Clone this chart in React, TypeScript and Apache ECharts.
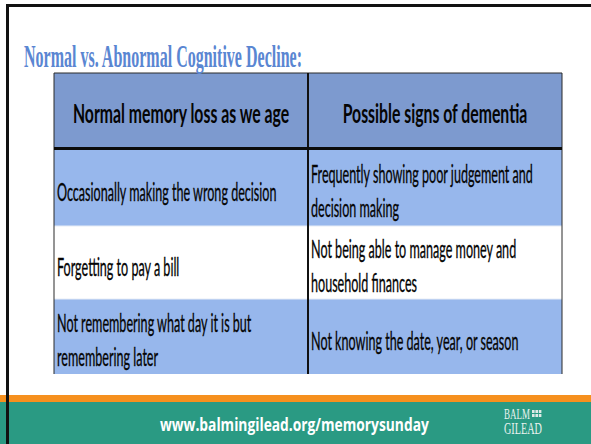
import React, { useEffect, useRef } from "react";
import * as echarts from "echarts";

// ---- content ----
const slideTitle = "Normal vs. Abnormal Cognitive Decline:";
const columnHeaders = ["Normal memory loss as we age", "Possible signs of dementia"];
const normalMemoryLoss: string[][] = [
  ["Occasionally making the wrong decision"],
  ["Forgetting to pay a bill"],
  ["Not remembering what day it is but", "remembering later"],
];
const signsOfDementia: string[][] = [
  ["Frequently showing poor judgement and", "decision making"],
  ["Not being able to manage money and", "household finances"],
  ["Not knowing the date, year, or season"],
];
const footerUrl = "www.balmingilead.org/memorysunday";
const logoLines = ["BALM", "GILEAD"];

// ---- layout ----
const W = 591;
const H = 444;
const TBL_L = 54;
const TBL_R = 562;
const TBL_MID = 308;
const TBL_TOP = 73;
const HEAD_BOTTOM = 148;
const ROW_EDGES = [150, 226, 299, 374];

const BODY_FONT = "Lato, 'Open Sans', sans-serif";
const BODY_SIZE = 25;
const HEAD_SIZE = 26;

function measure(text: string, font: string): number {
  const c = document.createElement("canvas");
  const ctx = c.getContext("2d");
  if (!ctx) return text.length * 8;
  ctx.font = font;
  return ctx.measureText(text).width || text.length * 8;
}

function txt(
  text: string,
  x: number,
  y: number,
  font: string,
  fill: string,
  scaleX: number,
  align: "left" | "center" | "right",
  strokeW = 0
) {
  const style: any = {
    text,
    font,
    fill,
    align,
    verticalAlign: "middle",
    textAlign: align,
    textVerticalAlign: "middle",
  };
  if (strokeW > 0) {
    style.stroke = fill;
    style.lineWidth = strokeW;
  }
  return { type: "text", x, y, scaleX, silent: true, z: 10, style };
}

function buildGraphic() {
  const g: any[] = [];
  // background
  g.push({ type: "rect", z: 0, shape: { x: 0, y: 0, width: W, height: H }, style: { fill: "#ffffff" } });
  // footer band
  g.push({ type: "rect", z: 1, shape: { x: 0, y: 395, width: W, height: 8 }, style: { fill: "#f6901e" } });
  g.push({ type: "rect", z: 1, shape: { x: 0, y: 402, width: W, height: H - 402 }, style: { fill: "#2a9a83" } });
  // slide frame
  g.push({ type: "rect", z: 2, shape: { x: 6, y: 4, width: W - 6, height: 3 }, style: { fill: "#111111" } });
  g.push({ type: "rect", z: 2, shape: { x: 6, y: 4, width: 3, height: H - 4 }, style: { fill: "#111111" } });

  // table header
  g.push({
    type: "rect",
    z: 3,
    shape: { x: TBL_L, y: TBL_TOP, width: TBL_R - TBL_L, height: HEAD_BOTTOM - TBL_TOP },
    style: { fill: "#7d9acf" },
  });
  // rows
  const rowFills = ["#97b7ec", "#ffffff", "#97b7ec"];
  for (let i = 0; i < 3; i++) {
    g.push({
      type: "rect",
      z: 3,
      shape: { x: TBL_L, y: ROW_EDGES[i], width: TBL_R - TBL_L, height: ROW_EDGES[i + 1] - ROW_EDGES[i] },
      style: { fill: rowFills[i] },
    });
  }
  // row separators (light)
  for (let i = 1; i < 3; i++) {
    g.push({
      type: "line",
      z: 4,
      shape: { x1: TBL_L, y1: ROW_EDGES[i], x2: TBL_R, y2: ROW_EDGES[i] },
      style: { stroke: "#e6ecf6", lineWidth: 1 },
    });
  }
  // outer borders
  g.push({ type: "line", z: 5, shape: { x1: TBL_L, y1: TBL_TOP, x2: TBL_R, y2: TBL_TOP }, style: { stroke: "#2a2a2a", lineWidth: 1 } });
  g.push({ type: "line", z: 5, shape: { x1: TBL_L, y1: TBL_TOP, x2: TBL_L, y2: ROW_EDGES[3] }, style: { stroke: "#2a2a2a", lineWidth: 1 } });
  g.push({ type: "line", z: 5, shape: { x1: TBL_R, y1: TBL_TOP, x2: TBL_R, y2: ROW_EDGES[3] }, style: { stroke: "#2a2a2a", lineWidth: 1 } });
  // divider
  g.push({ type: "line", z: 5, shape: { x1: TBL_MID, y1: TBL_TOP, x2: TBL_MID, y2: ROW_EDGES[3] }, style: { stroke: "#111111", lineWidth: 2 } });
  // header bottom thick line
  g.push({ type: "rect", z: 5, shape: { x: TBL_L, y: HEAD_BOTTOM - 1, width: TBL_R - TBL_L, height: 3 }, style: { fill: "#0c0c0c" } });

  // title
  const titleFont = "bold 31px 'Liberation Serif', 'DejaVu Serif', serif";
  const titleScale = 279 / measure(slideTitle, titleFont);
  g.push(txt(slideTitle, 24, 56, titleFont, "#5a86d2", titleScale, "left"));

  // headers
  const headFont = `bold ${HEAD_SIZE}px ${BODY_FONT}`;
  const headScale = 217 / measure(columnHeaders[0], headFont);
  g.push(txt(columnHeaders[0], (TBL_L + TBL_MID) / 2, 113, headFont, "#050505", headScale, "center"));
  g.push(txt(columnHeaders[1], (TBL_MID + TBL_R) / 2, 113, headFont, "#050505", headScale, "center"));

  // body
  const bodyFont = `normal ${BODY_SIZE}px ${BODY_FONT}`;
  const bodyScale = 195 / measure(normalMemoryLoss[2][0], bodyFont);
  const cellLines = (lines: string[], x: number, rowIdx: number) => {
    const c = (ROW_EDGES[rowIdx] + ROW_EDGES[rowIdx + 1]) / 2;
    if (lines.length === 1) {
      g.push(txt(lines[0], x, c + 3, bodyFont, "#050505", bodyScale, "left", 0.35));
    } else {
      g.push(txt(lines[0], x, c - 15, bodyFont, "#050505", bodyScale, "left", 0.35));
      g.push(txt(lines[1], x, c + 19, bodyFont, "#050505", bodyScale, "left", 0.35));
    }
  };
  for (let i = 0; i < 3; i++) {
    cellLines(normalMemoryLoss[i], TBL_L + 3, i);
    cellLines(signsOfDementia[i], TBL_MID + 3, i);
  }

  // footer url
  const footFont = "bold 17px 'Open Sans', 'Noto Sans', sans-serif";
  const footScale = 269 / measure(footerUrl, footFont);
  g.push(txt(footerUrl, 160, 424, footFont, "#ffffff", footScale, "left"));

  // logo
  const logo1Font = "normal 14px 'Liberation Serif', serif";
  const logo2Font = "normal 17px 'Liberation Serif', serif";
  g.push(txt(logoLines[0], 504, 415, logo1Font, "#e9f2ef", 26 / measure(logoLines[0], logo1Font), "left"));
  g.push(txt(logoLines[1], 504, 429, logo2Font, "#e9f2ef", 38 / measure(logoLines[1], logo2Font), "left"));
  for (let r = 0; r < 2; r++) {
    for (let c = 0; c < 3; c++) {
      g.push({
        type: "rect",
        z: 10,
        shape: { x: 532 + c * 3.4, y: 410 + r * 4, width: 2.6, height: 3 },
        style: { fill: "#dfeae6" },
      });
    }
  }
  return g;
}

export default function App() {
  const ref = useRef<HTMLDivElement>(null);
  useEffect(() => {
    if (!ref.current) return;
    const chart = echarts.init(ref.current, null, { renderer: "svg" });
    chart.setOption({
      animation: false,
      graphic: buildGraphic(),
    });
    return () => chart.dispose();
  }, []);
  return (
    <div
      ref={ref}
      style={{ position: "absolute", left: 0, top: 0, width: W, height: H, background: "#ffffff" }}
    />
  );
}
